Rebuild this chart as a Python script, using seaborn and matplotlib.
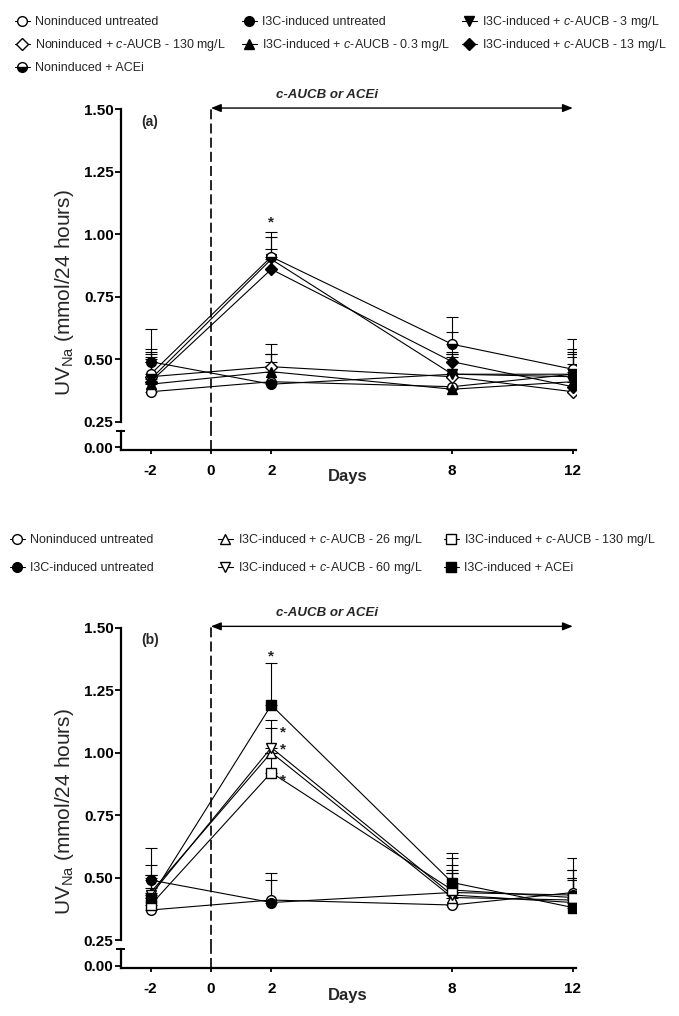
import numpy as np
import pandas as pd
import matplotlib
matplotlib.use("Agg")
import matplotlib.pyplot as plt
import seaborn as sns

sns.set_theme(style="ticks")
plt.rcParams['font.family'] = ['Liberation Sans', 'DejaVu Sans']
plt.rcParams['mathtext.fontset'] = 'custom'
plt.rcParams['mathtext.rm'] = 'Liberation Sans'
plt.rcParams['mathtext.it'] = 'Liberation Sans:italic'
plt.rcParams['mathtext.bf'] = 'Liberation Sans:bold'
plt.rcParams['axes.edgecolor'] = 'black'
plt.rcParams['xtick.color'] = 'black'
plt.rcParams['ytick.color'] = 'black'

# ---------------- data ----------------
days = [-2, 2, 8, 12]
x_ticks = [-2, 0, 2, 8, 12]
y_ticks = [0.25, 0.50, 0.75, 1.00, 1.25, 1.50]
y_tick_labels = ["0.25", "0.50", "0.75", "1.00", "1.25", "1.50"]

# shared groups
nonind_untreated = [0.37, 0.41, 0.39, 0.44]
nonind_untreated_err = [0.14, 0.11, 0.13, 0.09]
i3c_untreated = [0.49, 0.40, 0.44, 0.43]
i3c_untreated_err = [0.13, 0.09, 0.09, 0.15]

# panel (a)
a_i3c_3 = [0.42, 0.90, 0.44, 0.44]
a_i3c_3_err = [0.10, 0.09, 0.08, 0.08]
a_nonind_130 = [0.43, 0.47, 0.43, 0.37]
a_nonind_130_err = [0.10, 0.09, 0.08, 0.08]
a_i3c_03 = [0.40, 0.45, 0.38, 0.41]
a_i3c_03_err = [0.09, 0.07, 0.06, 0.10]
a_i3c_13 = [0.41, 0.86, 0.49, 0.39]
a_i3c_13_err = [0.09, 0.08, 0.12, 0.09]
a_nonind_acei = [0.44, 0.91, 0.56, 0.46]
a_nonind_acei_err = [0.10, 0.10, 0.11, 0.08]

# panel (b)
b_i3c_26 = [0.44, 1.00, 0.42, 0.41]
b_i3c_26_err = [0.07, 0.10, 0.13, 0.09]
b_i3c_60 = [0.43, 1.02, 0.43, 0.40]
b_i3c_60_err = [0.07, 0.11, 0.09, 0.09]
b_i3c_130 = [0.39, 0.92, 0.45, 0.42]
b_i3c_130_err = [0.07, 0.08, 0.13, 0.11]
b_i3c_acei = [0.42, 1.19, 0.48, 0.38]
b_i3c_acei_err = [0.13, 0.17, 0.12, 0.12]

W, H = 679, 1016
fig = plt.figure(figsize=(W / 100, H / 100), dpi=100)


def add_ax(l, t, r, b):
    a = fig.add_axes([l / W, 1 - b / H, (r - l) / W, (b - t) / H])
    a.set_facecolor('none')
    return a


XL, XR = 120.5, 575.8
XLIM = (-3, 12.1)
MS = 7.0


def style(marker, fill, ms=MS):
    d = dict(marker=marker, markersize=ms, markeredgecolor='black', markeredgewidth=1.0)
    if fill == 'open':
        d.update(markerfacecolor='white')
    elif fill == 'full':
        d.update(markerfacecolor='black')
    elif fill == 'half':
        d.update(markerfacecolor='black', markerfacecoloralt='white', fillstyle='bottom')
    return d


def draw_panel(dy, groups, letter, stars):
    ax = add_ax(XL, 109.3 + dy, XR, 421.7 + dy)
    axb = add_ax(XL, 430.7 + dy, XR, 450.0 + dy)
    handles = {}
    for label, vals, errs, st in groups:
        ax.errorbar(days, vals, yerr=[np.zeros(len(errs)), errs], fmt='none',
                    ecolor='black', elinewidth=0.8, capsize=4.5, capthick=0.8, zorder=2)
        df = pd.DataFrame({'Days': days, 'UV': vals})
        sns.lineplot(data=df, x='Days', y='UV', ax=ax, color='black', lw=0.8,
                     legend=False, zorder=3, **st)
        handles[label] = ax.lines[-1]
    for a in (ax, axb):
        a.set_xlim(XLIM)
        a.spines['top'].set_visible(False)
        a.spines['right'].set_visible(False)
        a.spines['left'].set_linewidth(1.6)
        a.spines['bottom'].set_linewidth(1.6)
        a.set_xlabel('')
        a.set_ylabel('')
        a.grid(False)
    ax.spines['bottom'].set_visible(False)
    ax.set_ylim(0.25, 1.5)
    ax.set_yticks(y_ticks)
    ax.set_yticklabels(y_tick_labels)
    ax.tick_params(axis='x', bottom=False, labelbottom=False)
    ax.tick_params(axis='y', direction='out', length=4, width=1.3, pad=1,
                   labelsize=11)
    axb.set_ylim(-0.0108, 0.0665)
    axb.set_yticks([0.0])
    axb.set_yticklabels(['0.00'])
    axb.set_xticks(x_ticks)
    axb.set_xticklabels([str(t) for t in x_ticks])
    axb.tick_params(axis='y', direction='out', length=4, width=1.3, pad=1, labelsize=11)
    axb.tick_params(axis='x', direction='out', length=3, width=1.3, pad=7, labelsize=11)
    for lab in ax.get_yticklabels() + axb.get_yticklabels() + axb.get_xticklabels():
        lab.set_fontweight('bold')
    axb.plot([-0.01, 0.01], [1, 1], transform=axb.transAxes, color='black',
             lw=1.4, clip_on=False, solid_capstyle='butt')
    ax.plot([0, 0], [0.214, 1.505], color='black', lw=1.2, ls=(0, (6, 2.5)),
            clip_on=False, zorder=1)
    axb.plot([0, 0], [-0.0108, 0.0665], color='black', lw=1.2, ls=(0, (6, 2.5)),
             clip_on=False, zorder=1)
    ax.annotate('', xy=(12, 1.505), xytext=(0, 1.505),
                arrowprops=dict(arrowstyle='<|-|>,head_length=0.5,head_width=0.2',
                                color='black', lw=1.0, shrinkA=0, shrinkB=0),
                annotation_clip=False)
    fig.text(327 / W, 1 - (95 + dy) / H, 'c-AUCB or ACEi', ha='center', va='center',
             fontsize=9.5, fontweight='bold', fontstyle='italic')
    fig.text(150 / W, 1 - (122 + dy) / H, letter, ha='center', va='center',
             fontsize=10, fontweight='bold')
    fig.text(348 / W, 1 - (477 + dy) / H, 'Days', ha='center', va='center',
             fontsize=12, fontweight='bold')
    fig.text(65 / W, 1 - (293 + dy) / H, r'UV$_{\mathrm{Na}}$ (mmol/24 hours)',
             rotation=90, ha='center', va='center', fontsize=15)
    for sx, sy in stars:
        ax.text(sx, sy - 0.035, '*', ha='center', va='baseline', fontsize=11,
                fontweight='bold')
    return ax, handles


def entry_legend(hdict, label, x_marker, y_center):
    hl = 1.2
    fs = 9
    fs_px = fs * 100 / 72
    ax_px = x_marker - hl * fs_px / 2
    fig.legend([hdict[label]], [label], loc='center left',
               bbox_to_anchor=(ax_px / W, 1 - y_center / H), frameon=False,
               fontsize=fs, handlelength=hl, handletextpad=0.45,
               borderpad=0, borderaxespad=0, numpoints=1)


L_NU = 'Noninduced untreated'
L_IU = 'I3C-induced untreated'
L_A3 = 'I3C-induced + $\\it{c}$-AUCB - 3 mg/L'
L_A130 = 'Noninduced + $\\it{c}$-AUCB - 130 mg/L'
L_A03 = 'I3C-induced + $\\it{c}$-AUCB - 0.3 mg/L'
L_A13 = 'I3C-induced + $\\it{c}$-AUCB - 13 mg/L'
L_AACE = 'Noninduced + ACEi'
L_B26 = 'I3C-induced + $\\it{c}$-AUCB - 26 mg/L'
L_B60 = 'I3C-induced + $\\it{c}$-AUCB - 60 mg/L'
L_B130 = 'I3C-induced + $\\it{c}$-AUCB - 130 mg/L'
L_BACE = 'I3C-induced + ACEi'

groups_a = [
    (L_NU, nonind_untreated, nonind_untreated_err, style('o', 'open')),
    (L_IU, i3c_untreated, i3c_untreated_err, style('o', 'full')),
    (L_A130, a_nonind_130, a_nonind_130_err, style('D', 'open', 6)),
    (L_A03, a_i3c_03, a_i3c_03_err, style('^', 'full')),
    (L_A3, a_i3c_3, a_i3c_3_err, style('v', 'full')),
    (L_A13, a_i3c_13, a_i3c_13_err, style('D', 'full', 6)),
    (L_AACE, a_nonind_acei, a_nonind_acei_err, style('o', 'half')),
]
groups_b = [
    (L_NU, nonind_untreated, nonind_untreated_err, style('o', 'open')),
    (L_IU, i3c_untreated, i3c_untreated_err, style('o', 'full')),
    (L_B26, b_i3c_26, b_i3c_26_err, style('^', 'open', 7.5)),
    (L_B60, b_i3c_60, b_i3c_60_err, style('v', 'open', 7.5)),
    (L_B130, b_i3c_130, b_i3c_130_err, style('s', 'open')),
    (L_BACE, b_i3c_acei, b_i3c_acei_err, style('s', 'full')),
]

stars_a = [(2, 1.065)]
stars_b = [(2, 1.405), (2.39, 1.10), (2.39, 1.03), (2.39, 0.907)]

ax_a, h_a = draw_panel(0.0, groups_a, '(a)', stars_a)
ax_b, h_b = draw_panel(518.3, groups_b, '(b)', stars_b)

# legend layout: (label, marker x px, row centre y px)
legend_a = [(L_NU, 22, 22), (L_IU, 249, 22), (L_A3, 469, 22),
            (L_A130, 22, 45), (L_A03, 249, 45), (L_A13, 469, 45),
            (L_AACE, 22, 68)]
legend_b = [(L_NU, 17, 540), (L_B26, 225, 540), (L_B130, 451, 540),
            (L_IU, 17, 568), (L_B60, 225, 568), (L_BACE, 451, 568)]
for lab, xm, yc in legend_a:
    entry_legend(h_a, lab, xm, yc)
for lab, xm, yc in legend_b:
    entry_legend(h_b, lab, xm, yc)

fig.savefig('out.png', dpi=100)
